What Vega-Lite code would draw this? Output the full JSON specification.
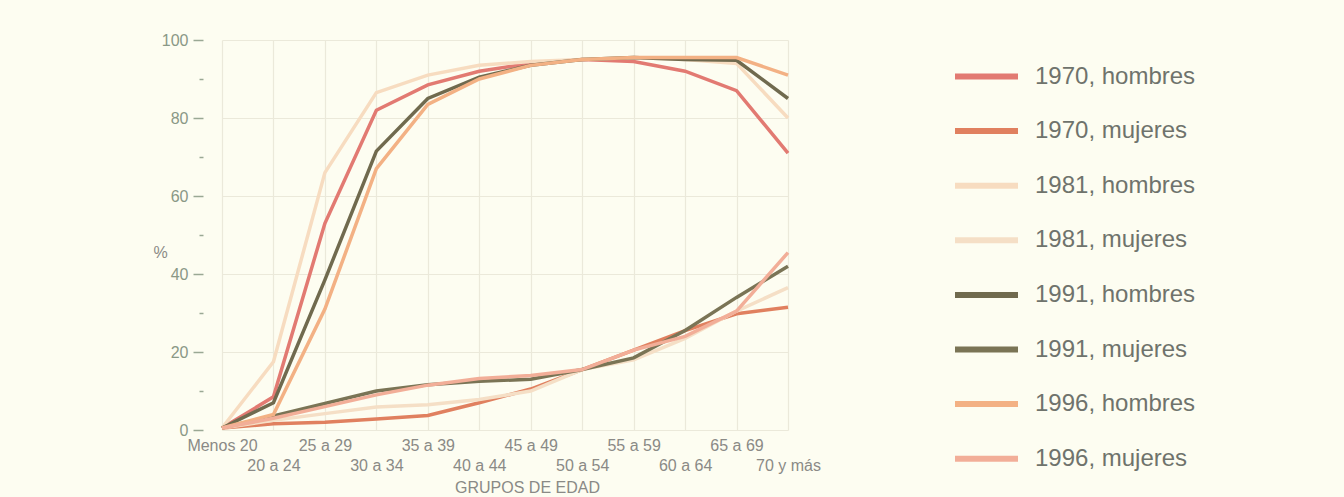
{
  "$schema": "https://vega.github.io/schema/vega-lite/v6.json",
  "width": 610,
  "height": 390,
  "autosize": {"type": "none"},
  "padding": {"left": 203, "top": 40, "right": 531, "bottom": 67},
  "background": "#fdfdf1",
  "config": {
    "view": {"stroke": null},
    "font": "Liberation Sans"
  },
  "data": {
    "values": [
      {"grupo": "Menos 20", "serie": "1970, hombres", "valor": 0.5},
      {"grupo": "20 a 24", "serie": "1970, hombres", "valor": 8.5},
      {"grupo": "25 a 29", "serie": "1970, hombres", "valor": 53},
      {"grupo": "30 a 34", "serie": "1970, hombres", "valor": 82},
      {"grupo": "35 a 39", "serie": "1970, hombres", "valor": 88.5},
      {"grupo": "40 a 44", "serie": "1970, hombres", "valor": 92},
      {"grupo": "45 a 49", "serie": "1970, hombres", "valor": 94},
      {"grupo": "50 a 54", "serie": "1970, hombres", "valor": 95},
      {"grupo": "55 a 59", "serie": "1970, hombres", "valor": 94.5},
      {"grupo": "60 a 64", "serie": "1970, hombres", "valor": 92},
      {"grupo": "65 a 69", "serie": "1970, hombres", "valor": 87},
      {"grupo": "70 y más", "serie": "1970, hombres", "valor": 71},

      {"grupo": "Menos 20", "serie": "1970, mujeres", "valor": 0.5},
      {"grupo": "20 a 24", "serie": "1970, mujeres", "valor": 1.6},
      {"grupo": "25 a 29", "serie": "1970, mujeres", "valor": 2},
      {"grupo": "30 a 34", "serie": "1970, mujeres", "valor": 2.8},
      {"grupo": "35 a 39", "serie": "1970, mujeres", "valor": 3.7},
      {"grupo": "40 a 44", "serie": "1970, mujeres", "valor": 7},
      {"grupo": "45 a 49", "serie": "1970, mujeres", "valor": 10.5},
      {"grupo": "50 a 54", "serie": "1970, mujeres", "valor": 15.5},
      {"grupo": "55 a 59", "serie": "1970, mujeres", "valor": 20.5},
      {"grupo": "60 a 64", "serie": "1970, mujeres", "valor": 25.5},
      {"grupo": "65 a 69", "serie": "1970, mujeres", "valor": 29.8},
      {"grupo": "70 y más", "serie": "1970, mujeres", "valor": 31.5},

      {"grupo": "Menos 20", "serie": "1981, hombres", "valor": 0.5},
      {"grupo": "20 a 24", "serie": "1981, hombres", "valor": 17.5},
      {"grupo": "25 a 29", "serie": "1981, hombres", "valor": 66},
      {"grupo": "30 a 34", "serie": "1981, hombres", "valor": 86.5},
      {"grupo": "35 a 39", "serie": "1981, hombres", "valor": 91},
      {"grupo": "40 a 44", "serie": "1981, hombres", "valor": 93.5},
      {"grupo": "45 a 49", "serie": "1981, hombres", "valor": 94.5},
      {"grupo": "50 a 54", "serie": "1981, hombres", "valor": 95},
      {"grupo": "55 a 59", "serie": "1981, hombres", "valor": 95.5},
      {"grupo": "60 a 64", "serie": "1981, hombres", "valor": 95},
      {"grupo": "65 a 69", "serie": "1981, hombres", "valor": 94},
      {"grupo": "70 y más", "serie": "1981, hombres", "valor": 80},

      {"grupo": "Menos 20", "serie": "1981, mujeres", "valor": 0.5},
      {"grupo": "20 a 24", "serie": "1981, mujeres", "valor": 2.5},
      {"grupo": "25 a 29", "serie": "1981, mujeres", "valor": 4.2},
      {"grupo": "30 a 34", "serie": "1981, mujeres", "valor": 5.9},
      {"grupo": "35 a 39", "serie": "1981, mujeres", "valor": 6.5},
      {"grupo": "40 a 44", "serie": "1981, mujeres", "valor": 7.8},
      {"grupo": "45 a 49", "serie": "1981, mujeres", "valor": 10},
      {"grupo": "50 a 54", "serie": "1981, mujeres", "valor": 15.5},
      {"grupo": "55 a 59", "serie": "1981, mujeres", "valor": 18},
      {"grupo": "60 a 64", "serie": "1981, mujeres", "valor": 23.5},
      {"grupo": "65 a 69", "serie": "1981, mujeres", "valor": 30.5},
      {"grupo": "70 y más", "serie": "1981, mujeres", "valor": 36.5},

      {"grupo": "Menos 20", "serie": "1991, hombres", "valor": 0.5},
      {"grupo": "20 a 24", "serie": "1991, hombres", "valor": 7},
      {"grupo": "25 a 29", "serie": "1991, hombres", "valor": 38.5},
      {"grupo": "30 a 34", "serie": "1991, hombres", "valor": 71.5},
      {"grupo": "35 a 39", "serie": "1991, hombres", "valor": 85},
      {"grupo": "40 a 44", "serie": "1991, hombres", "valor": 90.5},
      {"grupo": "45 a 49", "serie": "1991, hombres", "valor": 93.5},
      {"grupo": "50 a 54", "serie": "1991, hombres", "valor": 95},
      {"grupo": "55 a 59", "serie": "1991, hombres", "valor": 95.5},
      {"grupo": "60 a 64", "serie": "1991, hombres", "valor": 95},
      {"grupo": "65 a 69", "serie": "1991, hombres", "valor": 94.8},
      {"grupo": "70 y más", "serie": "1991, hombres", "valor": 85},

      {"grupo": "Menos 20", "serie": "1991, mujeres", "valor": 0.5},
      {"grupo": "20 a 24", "serie": "1991, mujeres", "valor": 3.6},
      {"grupo": "25 a 29", "serie": "1991, mujeres", "valor": 6.8},
      {"grupo": "30 a 34", "serie": "1991, mujeres", "valor": 10},
      {"grupo": "35 a 39", "serie": "1991, mujeres", "valor": 11.6},
      {"grupo": "40 a 44", "serie": "1991, mujeres", "valor": 12.5},
      {"grupo": "45 a 49", "serie": "1991, mujeres", "valor": 13},
      {"grupo": "50 a 54", "serie": "1991, mujeres", "valor": 15.5},
      {"grupo": "55 a 59", "serie": "1991, mujeres", "valor": 18.5},
      {"grupo": "60 a 64", "serie": "1991, mujeres", "valor": 25.5},
      {"grupo": "65 a 69", "serie": "1991, mujeres", "valor": 34},
      {"grupo": "70 y más", "serie": "1991, mujeres", "valor": 42},

      {"grupo": "Menos 20", "serie": "1996, hombres", "valor": 0.5},
      {"grupo": "20 a 24", "serie": "1996, hombres", "valor": 4},
      {"grupo": "25 a 29", "serie": "1996, hombres", "valor": 31},
      {"grupo": "30 a 34", "serie": "1996, hombres", "valor": 67},
      {"grupo": "35 a 39", "serie": "1996, hombres", "valor": 83.5},
      {"grupo": "40 a 44", "serie": "1996, hombres", "valor": 90},
      {"grupo": "45 a 49", "serie": "1996, hombres", "valor": 93.5},
      {"grupo": "50 a 54", "serie": "1996, hombres", "valor": 95},
      {"grupo": "55 a 59", "serie": "1996, hombres", "valor": 95.5},
      {"grupo": "60 a 64", "serie": "1996, hombres", "valor": 95.5},
      {"grupo": "65 a 69", "serie": "1996, hombres", "valor": 95.5},
      {"grupo": "70 y más", "serie": "1996, hombres", "valor": 91},

      {"grupo": "Menos 20", "serie": "1996, mujeres", "valor": 0.5},
      {"grupo": "20 a 24", "serie": "1996, mujeres", "valor": 3},
      {"grupo": "25 a 29", "serie": "1996, mujeres", "valor": 6},
      {"grupo": "30 a 34", "serie": "1996, mujeres", "valor": 9},
      {"grupo": "35 a 39", "serie": "1996, mujeres", "valor": 11.5},
      {"grupo": "40 a 44", "serie": "1996, mujeres", "valor": 13.2},
      {"grupo": "45 a 49", "serie": "1996, mujeres", "valor": 14},
      {"grupo": "50 a 54", "serie": "1996, mujeres", "valor": 15.5},
      {"grupo": "55 a 59", "serie": "1996, mujeres", "valor": 20.5},
      {"grupo": "60 a 64", "serie": "1996, mujeres", "valor": 24},
      {"grupo": "65 a 69", "serie": "1996, mujeres", "valor": 30.5},
      {"grupo": "70 y más", "serie": "1996, mujeres", "valor": 45.5}
    ]
  },
  "mark": {"type": "line", "strokeWidth": 3.5, "strokeJoin": "miter"},
  "encoding": {
    "x": {
      "field": "grupo",
      "type": "ordinal",
      "sort": ["Menos 20", "20 a 24", "25 a 29", "30 a 34", "35 a 39", "40 a 44", "45 a 49", "50 a 54", "55 a 59", "60 a 64", "65 a 69", "70 y más"],
      "scale": {"type": "point", "range": [19, 585], "padding": 0},
      "axis": {
        "title": "GRUPOS DE EDAD",
        "titleFont": "Liberation Sans",
        "titleFontSize": 16,
        "titleFontWeight": "normal",
        "titleColor": "#8a8a86",
        "titleX": 324,
        "titleY": 57,
        "titleBaseline": "middle",
        "labelAngle": 0,
        "labelFont": "Liberation Sans",
        "labelFontSize": 16,
        "labelColor": "#8a8a86",
        "labelBaseline": "middle",
        "labelPadding": {"expr": "indexof(['20 a 24','30 a 34','40 a 44','50 a 54','60 a 64','70 y más'], datum.value) >= 0 ? 35 : 15"},
        "labelOverlap": false,
        "domain": false,
        "ticks": false,
        "grid": true,
        "gridColor": "#ebe9da",
        "gridWidth": 1.2
      }
    },
    "y": {
      "field": "valor",
      "type": "quantitative",
      "scale": {"domain": [0, 100], "nice": false},
      "axis": {
        "title": "%",
        "titleAngle": 0,
        "titleFont": "Liberation Sans",
        "titleFontSize": 16,
        "titleFontWeight": "normal",
        "titleColor": "#8a8a86",
        "titleX": -43,
        "titleY": 212,
        "titleAlign": "center",
        "titleBaseline": "middle",
        "values": [0, 10, 20, 30, 40, 50, 60, 70, 80, 90, 100],
        "labelExpr": "datum.value % 20 == 0 ? datum.label : ''",
        "labelFont": "Liberation Sans",
        "labelFontSize": 16,
        "labelColor": "#8a9886",
        "labelPadding": 5,
        "domain": false,
        "tickSize": {"expr": "datum.value % 20 == 0 ? 10 : 4"},
        "tickColor": "#9aa894",
        "tickWidth": 1.5,
        "grid": true,
        "gridColor": "#ebe9da",
        "gridWidth": 1.2,
        "gridOpacity": {"expr": "datum.value % 20 == 0 ? 1 : 0"}
      }
    },
    "color": {
      "field": "serie",
      "type": "nominal",
      "scale": {
        "domain": ["1970, hombres", "1970, mujeres", "1981, hombres", "1981, mujeres", "1991, hombres", "1991, mujeres", "1996, hombres", "1996, mujeres"],
        "range": ["#e27a72", "#e0805f", "#f7dcc0", "#f5dfc6", "#706a4e", "#7a7455", "#f3b184", "#f2ae98"]
      },
      "legend": {
        "title": null,
        "orient": "none",
        "legendX": 749,
        "legendY": 2,
        "symbolType": "stroke",
        "symbolSize": 3969,
        "symbolStrokeWidth": 6,
        "symbolOpacity": 1,
        "labelFont": "Liberation Sans",
        "labelFontSize": 24,
        "labelLimit": 400,
        "labelColor": "#6f736c",
        "labelOffset": 14,
        "rowPadding": 7.6
      }
    }
  }
}
